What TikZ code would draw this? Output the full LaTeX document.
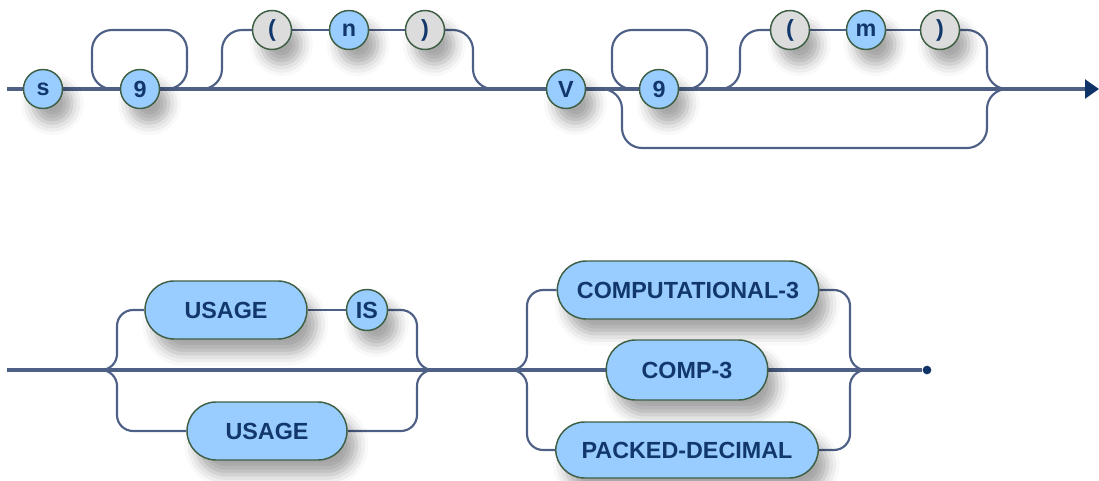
\documentclass[tikz,border=0pt]{standalone}
\usepackage{fontspec}
\setmainfont{Liberation Sans}
\usetikzlibrary{arrows.meta,shadows.blur,backgrounds}
\definecolor{nodefill}{HTML}{99CCFF}
\definecolor{grayfill}{HTML}{DCDCDC}
\definecolor{nodeborder}{HTML}{3F5F45}
\definecolor{txtc}{HTML}{12386B}
\definecolor{railc}{HTML}{4E6086}
\definecolor{arrowc}{HTML}{0F3366}
\begin{document}
\begin{tikzpicture}[x=0.75pt,y=-0.75pt,
  shadowed/.style={blur shadow={shadow xshift=7pt, shadow yshift=-11pt, shadow blur radius=9pt, shadow opacity=35}},
  term/.style={circle, draw=nodeborder, line width=1.1pt, fill=nodefill, minimum size=29.25pt, inner sep=0pt,
    font=\fontsize{17.5}{19}\selectfont\bfseries, text=txtc, shadowed},
  punct/.style={term, fill=grayfill},
  pill/.style={rectangle, rounded corners=21.75pt, draw=nodeborder, line width=1.1pt, fill=nodefill,
    minimum height=43.5pt, inner sep=0pt, font=\fontsize{17.5}{19}\selectfont\bfseries, text=txtc, shadowed},
  rail/.style={draw=railc, line width=1.6pt, rounded corners=15pt},
  railb/.style={rail, rounded corners=12pt},
  mainrail/.style={draw=railc, line width=2.4pt},
  enddotstyle/.style={circle, fill=arrowc, minimum size=6.5pt, inner sep=0pt}
]
\useasboundingbox (0,0) rectangle (1099,481);
% ---------- top row nodes ----------
\node[term] (s) at (43,89) {s};
\node[term] (nine1) at (140,89) {9};
\node[punct] (lp1) at (272,30) {(};
\node[term] (n) at (349,30) {n};
\node[punct] (rp1) at (425,30) {)};
\node[term] (V) at (566,89) {V};
\node[term] (nine2) at (659,89) {9};
\node[punct] (lp2) at (790,30) {(};
\node[term] (m) at (866,30) {m};
\node[punct] (rp2) at (940,30) {)};
\coordinate (start1) at (7,89);
\coordinate (j1) at (197,89);
\coordinate (k1) at (500,89);
\coordinate (j2) at (717,89);
\coordinate (k2) at (1010,89);
\coordinate (end1) at (1099,89);
% ---------- bottom row nodes ----------
\node[pill, minimum width=121.5pt] (usage1) at (226,310) {USAGE};
\node[term, minimum size=30.75pt] (is) at (367,310) {IS};
\node[pill, minimum width=120pt] (usage2) at (267,431) {USAGE};
\node[pill, minimum width=196pt] (comp3l) at (688,290) {COMPUTATIONAL-3};
\node[pill, minimum width=121pt, minimum height=45pt] (comp3) at (687,370) {COMP-3};
\node[pill, minimum width=197pt, minimum height=42pt] (packed) at (687,450) {PACKED-DECIMAL};
\node[enddotstyle] (enddot) at (927,370) {};
\coordinate (start2) at (7,370);
\coordinate (j3) at (100,370);
\coordinate (k3) at (433,370);
\coordinate (j4) at (503,370);
\coordinate (k4) at (870,370);
% ---------- rails ----------
\begin{scope}[on background layer]
  % top main line
  \draw[mainrail] (start1) -- (s) -- (nine1) -- (V) -- (nine2);
  \draw[mainrail, -{Triangle[length=10.5pt,width=14pt,color=arrowc]}] (nine2) -- (end1);
  % repeat loop 1
  \draw[rail] (nine1.east) -- (187,89) -- (187,30) -- (92,30) -- (92,89) -- (nine1.west);
  % optional ( n )
  \draw[rail] (j1) -- (222,89) -- (222,30) -- (lp1);
  \draw[rail] (lp1) -- (n) -- (rp1);
  \draw[rail] (rp1) -- (473,30) -- (473,89) -- (k1);
  % repeat loop 2
  \draw[rail] (nine2.east) -- (707,89) -- (707,30) -- (612,30) -- (612,89) -- (nine2.west);
  % optional ( m )
  \draw[rail] (j2) -- (740,89) -- (740,30) -- (lp2);
  \draw[rail] (lp2) -- (m) -- (rp2);
  \draw[rail] (rp2) -- (987,30) -- (987,89) -- (k2);
  % bypass
  \draw[rail] (V.east) -- (622,89) -- (622,148) -- (987,148) -- (987,89) -- (k2);
  % bottom main line
  \draw[mainrail] (start2) -- (comp3) -- (enddot);
  % USAGE IS / USAGE choice
  \draw[railb] (j3) -- (117,370) -- (117,310) -- (usage1);
  \draw[rail] (usage1) -- (is);
  \draw[railb] (is) -- (417,310) -- (417,370) -- (k3);
  \draw[railb] (j3) -- (117,370) -- (117,431) -- (usage2);
  \draw[railb] (usage2) -- (417,431) -- (417,370) -- (k3);
  % COMPUTATIONAL-3 / COMP-3 / PACKED-DECIMAL choice
  \draw[railb] (j4) -- (527,370) -- (527,290) -- (comp3l);
  \draw[railb] (comp3l) -- (850,290) -- (850,370) -- (k4);
  \draw[railb] (j4) -- (527,370) -- (527,450) -- (packed);
  \draw[railb] (packed) -- (850,450) -- (850,370) -- (k4);
\end{scope}
\end{tikzpicture}
\end{document}
